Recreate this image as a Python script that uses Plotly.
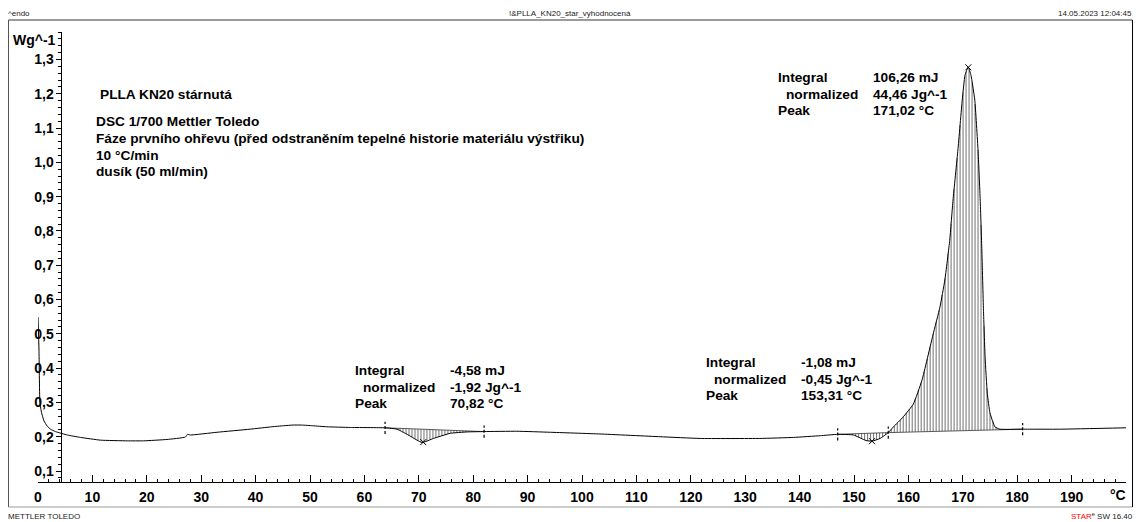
import numpy as np
import plotly.graph_objects as go

# ---------------- data ----------------
temperature = [0.0, 0.18, 0.33, 0.55, 0.77, 1.1, 1.69, 2.3, 3.2, 5.4, 7.8, 11.5, 16.4, 19.4,
               23.7, 27.1, 27.5, 28.0, 32.9, 39.0, 43.0, 45.1, 46.9, 48.5, 50.5, 53.1, 57.4, 63.8, 66.0,
               68.4, 70.6, 72.7, 75.8, 78.9, 82.0, 88.0, 94.2, 103.3, 114.4, 121.7, 132.7,
               138.9, 143.8, 147.0, 149.9, 152.2, 153.3, 154.8, 156.3, 157.2, 159.0, 160.9,
               162.5, 164.5, 165.8, 166.7, 167.6, 168.2, 169.1, 169.9, 170.4, 171.0, 171.5,
               172.2, 172.8, 173.2, 173.5, 173.8, 174.1, 174.5, 175.0, 175.9, 176.8, 181.0,
               187.9, 200.0]
heat_flow = [0.549, 0.453, 0.307, 0.278, 0.263, 0.246, 0.231, 0.222, 0.215, 0.205, 0.198,
             0.190, 0.188, 0.188, 0.192, 0.199, 0.207, 0.205, 0.213, 0.222, 0.229, 0.232, 0.234,
             0.234, 0.232, 0.229, 0.227, 0.226, 0.222, 0.202, 0.183, 0.195, 0.210, 0.214, 0.215,
             0.216, 0.213, 0.208, 0.200, 0.195, 0.195, 0.198, 0.203, 0.207, 0.205, 0.189,
             0.187, 0.195, 0.212, 0.228, 0.257, 0.295, 0.365, 0.496, 0.578, 0.657, 0.773,
             0.890, 1.036, 1.182, 1.254, 1.278, 1.254, 1.182, 1.036, 0.890, 0.744, 0.569,
             0.432, 0.327, 0.269, 0.229, 0.222, 0.222, 0.222, 0.226]

# integration limits (start, end) for the three evaluated peaks
integration_limits = [(63.8, 82.0), (147.0, 156.3), (156.3, 181.0)]
peak_temperatures = [70.82, 153.31, 171.02]

x_ticks = list(range(0, 200, 10))
y_ticks = [0.1, 0.2, 0.3, 0.4, 0.5, 0.6, 0.7, 0.8, 0.9, 1.0, 1.1, 1.2, 1.3]

sample_lines = ["PLLA KN20 stárnutá"]
method_lines = ["DSC 1/700 Mettler Toledo",
                "Fáze prvního ohřevu (před odstraněním tepelné historie materiálu výstřiku)",
                "10 °C/min",
                "dusík (50 ml/min)"]
result_labels = ["Integral", "  normalized", "Peak"]
peak1_values = ["-4,58 mJ", "-1,92 Jg^-1", "70,82 °C"]
peak2_values = ["-1,08 mJ", "-0,45 Jg^-1", "153,31 °C"]
peak3_values = ["106,26 mJ", "44,46 Jg^-1", "171,02 °C"]

# ---------------- geometry ----------------
W, H = 1146, 522
L, R, T, B = 37.5, 1126, 32, 482
X_RANGE = [0, 200]
Y_RANGE = [0.068, 1.38]


def px(xp):
    return (xp - L) / (R - L)


def py(yp):
    return (B - yp) / (B - T)


FONT = "Liberation Sans, Arial, sans-serif"
tx = np.array(temperature)
hf = np.array(heat_flow)

fig = go.Figure()

# hatching of the integrated areas
hx, hy = [], []
for a, b in integration_limits:
    ya = np.interp(a, tx, hf)
    yb = np.interp(b, tx, hf)
    for xv in np.arange(a, b, 0.55):
        base = ya + (yb - ya) * (xv - a) / (b - a)
        cv = np.interp(xv, tx, hf)
        hx += [xv, xv, None]
        hy += [base, cv, None]
fig.add_trace(go.Scatter(x=hx, y=hy, mode="lines", line=dict(color="#333333", width=0.7),
                         hoverinfo="skip", showlegend=False))

# baselines
for a, b in integration_limits:
    fig.add_trace(go.Scatter(x=[a, b], y=[np.interp(a, tx, hf), np.interp(b, tx, hf)],
                             mode="lines", line=dict(color="#333333", width=0.8),
                             showlegend=False, hoverinfo="skip"))

# main curve
fig.add_trace(go.Scatter(x=temperature, y=heat_flow, mode="lines",
                         line=dict(color="black", width=1, shape="spline", smoothing=0.4),
                         showlegend=False))

# limit marks
limits = sorted(set([v for ab in integration_limits for v in ab]))
for v in limits:
    yv = np.interp(v, tx, hf)
    fig.add_trace(go.Scatter(x=[v, v], y=[yv - 0.018, yv + 0.018], mode="lines",
                             line=dict(color="black", width=1.2, dash="3px,2px"),
                             showlegend=False, hoverinfo="skip"))

# peak marks
fig.add_trace(go.Scatter(x=peak_temperatures, y=[np.interp(p, tx, hf) for p in peak_temperatures],
                         mode="markers", marker=dict(symbol="x-thin", size=6,
                                                     line=dict(color="black", width=1)),
                         showlegend=False, hoverinfo="skip"))

ann = []


def text(xp, yp, s, size=13.7, bold=True, xanchor="left", color="black"):
    shift = {"left": -2.5, "right": 2.5, "center": 0}[xanchor]
    ann.append(dict(x=px(xp + shift), y=py(yp), xref="paper", yref="paper", text=s,
                    showarrow=False, xanchor=xanchor, yanchor="middle",
                    font=dict(family=FONT, size=size, color=color,
                              weight="bold" if bold else "normal")))


text(100, 94, sample_lines[0])
for i, s in enumerate(method_lines):
    text(96.5, 121.5 + i * 16.8, s)

for (lx, ly, vx), vals in [((355, 370.5, 450), peak1_values),
                           ((706, 362.5, 801.5), peak2_values),
                           ((778, 77.3, 873.3), peak3_values)]:
    for i in range(3):
        lab = result_labels[i]
        if lab.startswith("  "):
            text(lx + 8.5, ly + i * 16.7, lab.strip())
        else:
            text(lx, ly + i * 16.7, lab)
        text(vx, ly + i * 16.7, vals[i])

text(55, 39.5, "Wg^-1", size=14, xanchor="right")
text(1118, 495, "°C", size=14, xanchor="center")

# header / footer
text(7.5, 13, "^endo", size=8, bold=False, color="#222222")
text(570, 13, "!&PLLA_KN20_star_vyhodnocená", size=8, bold=False, xanchor="center", color="#222222")
text(1132, 13, "14.05.2023 12:04:45", size=8, bold=False, xanchor="right", color="#222222")
text(7.5, 516, "METTLER TOLEDO", size=8, bold=False, color="#222222")
text(1133, 516, "<span style='color:red'>STAR</span><sup>e</sup> SW 16.40", size=8,
     bold=False, xanchor="right", color="#222222")

shapes = [
    dict(type="line", xref="paper", yref="paper", x0=px(8), x1=px(1132.5), y0=py(20), y1=py(20),
         line=dict(color="#9a9a9a", width=2)),
    dict(type="line", xref="paper", yref="paper", x0=px(8), x1=px(8), y0=py(20), y1=py(507),
         line=dict(color="#555555", width=1)),
    dict(type="line", xref="paper", yref="paper", x0=px(8), x1=px(1132.5), y0=py(507), y1=py(507),
         line=dict(color="#9a9a9a", width=1)),
    dict(type="line", xref="paper", yref="paper", x0=px(1132.5), x1=px(1132.5), y0=py(20), y1=py(507),
         line=dict(color="black", width=1)),
]

tickfont = dict(family=FONT, size=14, color="black", weight="bold")

fig.update_layout(
    width=W, height=H, autosize=False,
    margin=dict(l=L, r=W - R, t=T, b=H - B, pad=0, autoexpand=False),
    paper_bgcolor="white", plot_bgcolor="white",
    separators=",.",
    showlegend=False,
    annotations=ann,
    shapes=shapes,
    xaxis=dict(range=X_RANGE, showgrid=False, zeroline=False, showline=True, automargin=False,
               linecolor="black", linewidth=1, ticks="inside", ticklen=7, tickcolor="black",
               tickvals=x_ticks, ticktext=[str(v) for v in x_ticks], tickfont=tickfont,
               ticklabelstandoff=2,
               minor=dict(dtick=2, tick0=0, ticks="inside", ticklen=3, tickcolor="black",
                          showgrid=False)),
    yaxis=dict(range=Y_RANGE, showgrid=False, zeroline=False, showline=True, automargin=False,
               linecolor="black", linewidth=1, anchor="free", position=px(61),
               ticks="outside", ticklen=5, tickcolor="black", tickvals=y_ticks,
               tickformat=".1f", tickfont=tickfont,
               minor=dict(dtick=0.02, tick0=0, ticks="outside", ticklen=3, tickcolor="black",
                          showgrid=False)),
)

fig.write_html("out.html", config={"displayModeBar": False},
               post_script="document.body.style.margin='0';document.body.style.padding='0';"
                           "document.body.style.overflow='hidden';")
